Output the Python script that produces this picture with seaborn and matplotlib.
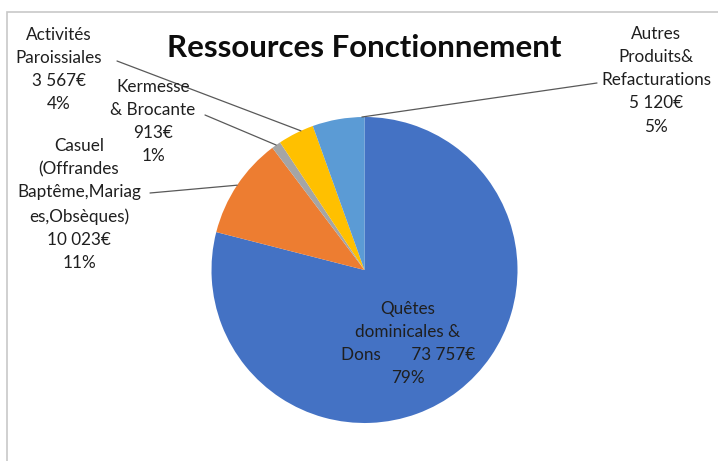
import numpy as np
import matplotlib
matplotlib.use("Agg")
import matplotlib.pyplot as plt
import seaborn as sns
from matplotlib.patches import Rectangle

# ---- data ----
categories = ["Quêtes dominicales & Dons", "Casuel", "Kermesse & Brocante",
              "Activités Paroissiales", "Autres Produits& Refacturations"]
values = [73757, 10023, 913, 3567, 5120]
value_labels = ["73 757€", "10 023€", "913€", "3 567€", "5 120€"]
label_texts = [
    "Quêtes\ndominicales &\nDons       73 757€\n79%",
    "Casuel\n(Offrandes\nBaptême,Mariag\nes,Obsèques)\n10 023€\n11%",
    "Kermesse\n& Brocante\n913€\n1%",
    "Activités\nParoissiales\n3 567€\n4%",
    "Autres\nProduits&\nRefacturations\n5 120€\n5%",
]
colors = ["#4472C4", "#ED7D31", "#A5A5A5", "#FFC000", "#5B9BD5"]
title = "Ressources Fonctionnement"

sns.set_theme(style="white")
plt.rcParams["font.family"] = ["Lato", "DejaVu Sans"]

W, H = 718, 461
fig = plt.figure(figsize=(W / 100, H / 100), dpi=100)

def fx(px):
    return px / W

def fy(py):
    return 1 - py / H

# pie axes
cx, cy, r = 364.5, 270.0, 153.0
ax = fig.add_axes([fx(cx - r), fy(cy + r), 2 * r / W, 2 * r / H])
palette = sns.color_palette(colors)
wedges, _ = ax.pie(values, colors=palette, startangle=90, counterclock=False,
                   wedgeprops=dict(linewidth=0))
ax.set_xlim(-1, 1)
ax.set_ylim(-1, 1)
ax.axis("off")

txt_color = "#1f1f1f"
fs = 12.3
ls = 1.55

# external labels: (index, text center x px, top y px, leader start px, anchor frac)
ext = [
    (3, 59, 27, (117, 61), 0.35),
    (2, 153, 79, (205, 115), 0.5),
    (1, 79, 138, (150, 193), 0.5),
    (4, 656, 26, (597, 83), 0.05),
]
for idx, tx, ty, (lx, ly), frac in ext:
    fig.text(fx(tx), fy(ty), label_texts[idx], ha="center", va="top",
             multialignment="center", fontsize=fs, color=txt_color,
             linespacing=ls)
    w = wedges[idx]
    ang = np.deg2rad(w.theta1 + (w.theta2 - w.theta1) * frac)
    px = np.cos(ang)
    py = np.sin(ang)
    ax.annotate("", xy=(px, py), xycoords="data",
                xytext=(fx(lx), fy(ly)), textcoords="figure fraction",
                arrowprops=dict(arrowstyle="-", color="#595959", lw=0.9,
                                shrinkA=0, shrinkB=0),
                annotation_clip=False)

# internal label for largest slice
fig.text(fx(408), fy(301), label_texts[0], ha="center", va="top",
         multialignment="center", fontsize=fs, color=txt_color, linespacing=ls)

# title
fig.text(fx(364), fy(48), title, ha="center", va="center",
         fontsize=22.5, fontweight="bold", color="#0d0d0d")

# chart frame
fig.patches.append(Rectangle((fx(7), -0.1), 1.2, fy(12) + 0.1,
                             transform=fig.transFigure, fill=False,
                             edgecolor="#c8c8c8", linewidth=1.2))

fig.savefig("out.png", dpi=100, facecolor="white")
